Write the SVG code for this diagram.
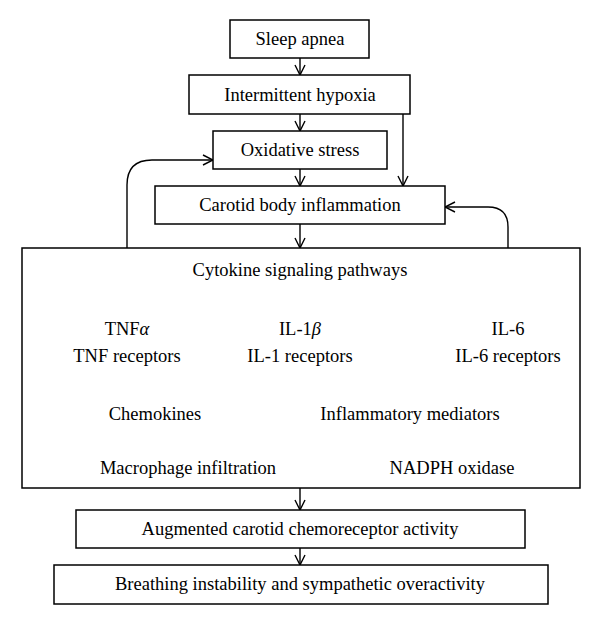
<svg xmlns="http://www.w3.org/2000/svg" width="600" height="625" viewBox="0 0 600 625">
<defs>
<marker id="ah" viewBox="0 0 12 12" refX="11" refY="6" markerWidth="12" markerHeight="12" markerUnits="userSpaceOnUse" orient="auto">
<path d="M1,1 L11,6 L1,11" fill="none" stroke="#000" stroke-width="1.4"/>
</marker>
<style>
rect{fill:#fff;stroke:#000;stroke-width:1.5}
text{font-family:"Liberation Serif","Times New Roman",serif;font-size:18.5px;fill:#000;text-anchor:middle}
.c path,.c line{fill:none;stroke:#000;stroke-width:1.4;marker-end:url(#ah)}
</style>
</defs>
<rect x="0" y="0" width="600" height="625" style="stroke:none"/>
<g class="c" id="connectors">
<line x1="300" y1="58" x2="300" y2="75"/>
<line x1="300" y1="114" x2="300" y2="131"/>
<line x1="300" y1="169" x2="300" y2="186"/>
<path d="M403,114 L403,186"/>
<line x1="300" y1="224" x2="300" y2="248"/>
<path d="M127,248 L127,185 Q127,160 152,160 L213,160"/>
<path d="M508,248 L508,227 Q508,207 488,207 L445,207"/>
<line x1="300" y1="488" x2="300" y2="510"/>
<line x1="300" y1="548" x2="300" y2="565"/>
</g>
<g id="sleep-apnea"><rect x="230" y="20" width="139" height="38"/><text x="300" y="45">Sleep apnea</text></g>
<g id="intermittent-hypoxia"><rect x="189" y="75" width="221" height="39"/><text x="300" y="101">Intermittent hypoxia</text></g>
<g id="oxidative-stress"><rect x="213" y="131" width="174" height="38"/><text x="300" y="156">Oxidative stress</text></g>
<g id="carotid-body-inflammation"><rect x="155" y="186" width="290" height="38"/><text x="300" y="211">Carotid body inflammation</text></g>
<g id="cytokine">
<rect x="22" y="248" width="558" height="240"/>
<text x="300" y="276">Cytokine signaling pathways</text>
<text x="127" y="335">TNF<tspan font-style="italic">α</tspan></text>
<text x="127" y="362">TNF receptors</text>
<text x="300" y="335">IL-1<tspan font-style="italic">β</tspan></text>
<text x="300" y="362">IL-1 receptors</text>
<text x="508" y="335">IL-6</text>
<text x="508" y="362">IL-6 receptors</text>
<text x="155" y="420">Chemokines</text>
<text x="410" y="420">Inflammatory mediators</text>
<text x="188" y="474">Macrophage infiltration</text>
<text x="452" y="474">NADPH oxidase</text>
</g>
<g id="augmented"><rect x="76" y="510" width="449" height="38"/><text x="300" y="535">Augmented carotid chemoreceptor activity</text></g>
<g id="breathing"><rect x="54" y="565" width="494" height="39"/><text x="300" y="590">Breathing instability and sympathetic overactivity</text></g>
</svg>
